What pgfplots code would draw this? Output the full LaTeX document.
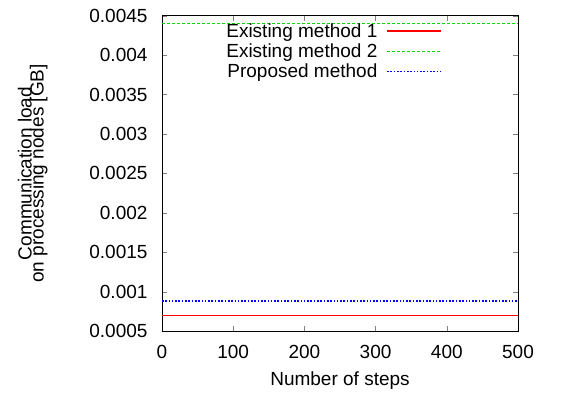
\documentclass[border=0pt]{standalone}
\usepackage{fontspec}
\setmainfont{Liberation Sans}
\usepackage{pgfplots}
\pgfplotsset{compat=1.18}
\begin{document}
\begin{tikzpicture}[font=\fontsize{19bp}{22bp}\selectfont]
\begin{axis}[
  at={(0,0)}, anchor=south west,
  scale only axis,
  width=356bp, height=315.68bp,
  xmin=0, xmax=500, ymin=0.0005, ymax=0.0045,
  xtick={0,100,200,300,400,500},
  ytick={0.0005,0.001,0.0015,0.002,0.0025,0.003,0.0035,0.004,0.0045},
  scaled y ticks=false,
  scaled x ticks=false,
  yticklabel style={/pgf/number format/fixed,/pgf/number format/precision=4},
  /pgf/number format/assume math mode=true,
  tick align=inside,
  major tick length=5bp,
  minor tick num=0,
  axis line style={line width=0.8bp},
  tick label style={font=\fontsize{19bp}{22bp}\selectfont},
  label style={font=\fontsize{19bp}{15bp}\selectfont},
  xticklabel style={yshift=-10bp},
  yticklabel style={xshift=-11bp},
  xlabel={Number of steps},
  ylabel={Communication load\\[-3bp]on processing nodes [GB]},
  ylabel style={align=center, yshift=35bp},
  xlabel style={yshift=-7bp},
  legend plot pos=right,
  legend cell align=right,
  legend image code/.code={\draw[#1] (0bp,0bp) -- (54bp,0bp);},
  legend style={draw=none, fill=none, at={(0.787,0.982)}, anchor=north east,
    font=\fontsize{19bp}{20bp}\selectfont, inner sep=0pt, row sep=1bp,
    /tikz/every odd column/.append style={column sep=7bp},
    /tikz/every even column/.append style={column sep=0bp}},
]
\addplot[color=red, draw=red, solid, line width=1.6bp] coordinates {(0,0.0007) (500,0.0007)};
\addlegendentry{Existing method 1}
\addplot[color=green!85!black, draw=green!85!black, line width=1.6bp, dash pattern=on 3bp off 2bp] coordinates {(0,0.0044) (500,0.0044)};
\addlegendentry{Existing method 2}
\addplot[color=blue, draw=blue, line width=1.6bp, dash pattern=on 1.6bp off 1.7bp] coordinates {(0,0.00088) (500,0.00088)};
\addlegendentry{Proposed method}
\end{axis}
\path[use as bounding box] (-162bp,-60.716bp) rectangle (414bp,331.284bp);
\end{tikzpicture}
\end{document}
